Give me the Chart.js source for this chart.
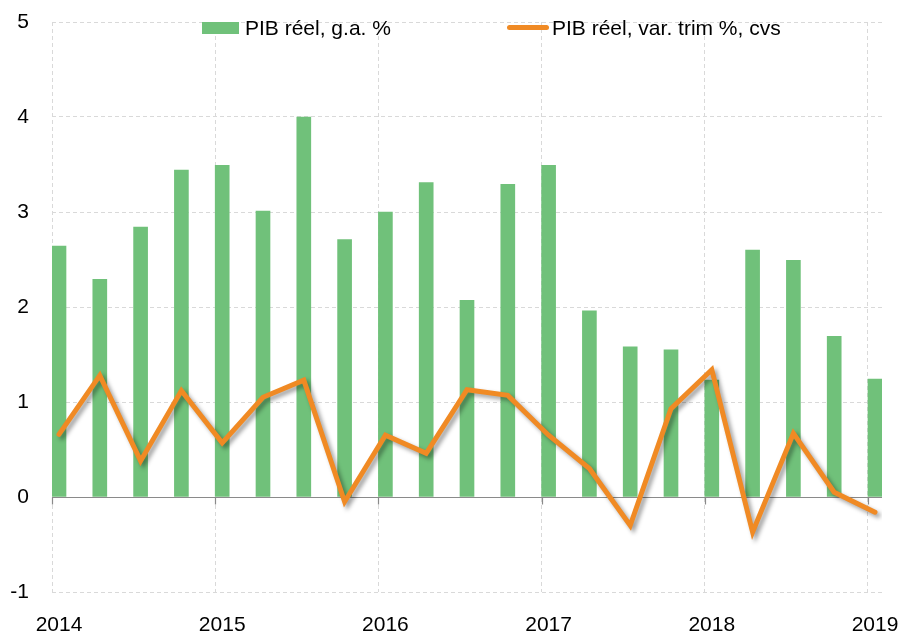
<!DOCTYPE html>
<html><head><meta charset="utf-8">
<script src="https://cdn.jsdelivr.net/npm/chart.js@4.4.1/dist/chart.umd.min.js"></script>
<style>
html,body{margin:0;padding:0;background:#fff;}
#wrap{position:relative;width:901px;height:637px;overflow:hidden;}
#legend{position:absolute;left:0;top:0;font-family:"Liberation Sans",Arial,sans-serif;font-size:21px;color:#000;}
.item{position:absolute;top:17px;display:flex;align-items:center;white-space:nowrap;line-height:21px;height:21px;}
.sw-bar{width:37px;height:12px;margin-right:6px;}
.sw-line{width:42px;height:5px;border-radius:3px;margin-right:3px;}
</style></head><body>
<div id="wrap"><canvas id="c" width="901" height="637"></canvas><div id="legend"></div></div>
<script>
// ---- data ----
const quarters = ['2014T1','2014T2','2014T3','2014T4','2015T1','2015T2','2015T3','2015T4','2016T1','2016T2','2016T3','2016T4','2017T1','2017T2','2017T3','2017T4','2018T1','2018T2','2018T3','2018T4','2019T1'];
const yearLabels = ['2014','2015','2016','2017','2018','2019'];
const pibGa = [2.64,2.29,2.84,3.44,3.49,3.01,4.00,2.71,3.00,3.31,2.07,3.29,3.49,1.96,1.58,1.55,1.23,2.60,2.49,1.69,1.24];
const pibTrim = [0.66,1.28,0.38,1.12,0.57,1.05,1.23,-0.05,0.65,0.46,1.13,1.07,0.65,0.30,-0.30,0.93,1.34,-0.37,0.67,0.05,-0.16];
const seriesLabels = ['PIB réel, g.a. %','PIB réel, var. trim %, cvs'];
const yMin = -1, yMax = 5;

// ---- style ----
const GREEN = '#70C17A', ORANGE = '#F08A24';
const FONT = {family:'"Liberation Sans", Arial, sans-serif', size:21};
const H = 0.1716; // half bar width in quarter units (axis layout)

const toXY = arr => arr.map((v,i)=>({x:i, y:v}));

const zeroLine = {
  id:'zeroLine',
  afterDatasetDraw(chart,args){
    if(args.index!==0) return;
    const {ctx, chartArea:a, scales:{x,y}} = chart;
    const y0 = Math.round(y.getPixelForValue(0))+0.5;
    ctx.save(); ctx.strokeStyle='#8a8a8a'; ctx.lineWidth=1.2;
    ctx.beginPath(); ctx.moveTo(a.left,y0); ctx.lineTo(a.right,y0);
    x.ticks.forEach(t=>{const px=Math.round(x.getPixelForValue(t.value))+0.5; ctx.moveTo(px,y0); ctx.lineTo(px,y0+7);});
    ctx.stroke(); ctx.restore();
  }
};
const shadow = {
  id:'shadow',
  beforeDatasetDraw(chart,args){
    if(args.index!==1) return;
    const ctx=chart.ctx; ctx.save();
    ctx.shadowColor='rgba(0,0,0,0.38)'; ctx.shadowOffsetX=3; ctx.shadowOffsetY=3; ctx.shadowBlur=4;
  },
  afterDatasetDraw(chart,args){
    if(args.index!==1) return;
    chart.ctx.restore();
  }
};

new Chart(document.getElementById('c'), {
  type:'bar',
  data:{
    datasets:[
      {type:'bar', label:seriesLabels[0], data:toXY(pibGa), backgroundColor:GREEN, barThickness:14, order:1},
      {type:'line', label:seriesLabels[1], data:toXY(pibTrim), borderColor:ORANGE, borderWidth:5, pointRadius:0, tension:0, borderJoinStyle:'miter', borderCapStyle:'round', order:0}
    ]
  },
  options:{
    responsive:false, animation:false,
    layout:{padding:{top:22,right:19,left:0,bottom:0}},
    plugins:{legend:{display:false}, tooltip:{enabled:false}},
    scales:{
      x:{
        type:'linear', offset:false, min:-H, max:quarters.length-1+H,
        afterBuildTicks:s=>{ s.ticks = yearLabels.map((_,k)=>({value:4*k-H})); },
        afterFit:s=>{ s.height=45; s.paddingLeft=0; s.paddingRight=0; },
        ticks:{autoSkip:false, maxRotation:0, font:FONT, color:'#000', padding:21, labelOffset:7,
          callback:(v,i)=>yearLabels[i]},
        grid:{color:'#D9D9D9', lineWidth:1, drawTicks:false, offset:false},
        border:{display:false, dash:[4,3]}
      },
      y:{
        min:yMin, max:yMax,
        afterFit:s=>{ s.width=52; s.paddingTop=0; s.paddingBottom=0; },
        ticks:{stepSize:1, font:FONT, color:'#000', padding:23},
        grid:{color:'#D9D9D9', lineWidth:1, drawTicks:false},
        border:{display:false, dash:[4,3]}
      }
    }
  },
  plugins:[zeroLine, shadow]
});

// legend (HTML)
const leg = document.getElementById('legend');
[[202,'sw-bar',GREEN],[507,'sw-line',ORANGE]].forEach(([left,cls,col],i)=>{
  const it=document.createElement('div'); it.className='item'; it.style.left=left+'px';
  const sw=document.createElement('span'); sw.className=cls; sw.style.background=col;
  const tx=document.createElement('span'); tx.textContent=seriesLabels[i];
  it.appendChild(sw); it.appendChild(tx); leg.appendChild(it);
});
</script>
</body></html>
